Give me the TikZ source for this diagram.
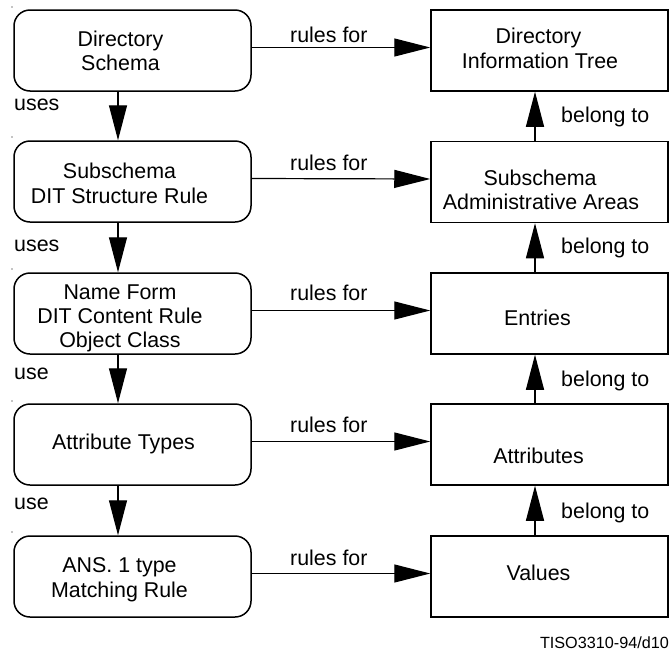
\documentclass[tikz,border=0pt]{standalone}
\usepackage{fontspec}
\setmainfont{Liberation Sans}
\usetikzlibrary{arrows.meta}
\begin{document}
\begin{tikzpicture}[x=1pt,y=-1pt,
  lbox/.style={draw,line width=1.5pt,rounded corners=16pt,minimum width=237pt,minimum height=81pt,inner sep=0pt},
  rbox/.style={draw,line width=1.5pt,minimum width=237pt,minimum height=81pt,inner sep=0pt},
  txt/.style={font=\fontsize{21.4}{24}\selectfont,anchor=base,inner sep=0pt},
  lbl/.style={font=\fontsize{21.4}{24}\selectfont,inner sep=0pt},
  harrow/.style={line width=1.2pt,-{Triangle[length=36pt,width=18pt]}},
  varrow/.style={line width=1.2pt,-{Triangle[length=35pt,width=18pt]}},
  dotmark/.style={circle,fill,inner sep=0pt,minimum size=1.2pt}]
\useasboundingbox (0,0) rectangle (672,651);
% left boxes
\node[lbox] (l1) at (132.5,50.5) {};
\node[lbox] (l2) at (132.5,181.5) {};
\node[lbox] (l3) at (132.5,313.5) {};
\node[lbox] (l4) at (132.5,444.5) {};
\node[lbox] (l5) at (132.5,576.5) {};
% right boxes
\node[rbox] (r1) at (549.5,50.5) {};
\node[rbox] (r2) at (549.5,182) {};
\node[rbox] (r3) at (549.5,313.5) {};
\node[rbox] (r4) at (549.5,444.5) {};
\node[rbox] (r5) at (549.5,576.5) {};
% left texts
\node[txt] (t1a) at (120.5,46) {Directory};
\node[txt] (t1b) at (120.5,70) {Schema};
\node[txt] (t2a) at (119.5,178) {Subschema};
\node[txt] (t2b) at (119.5,203) {DIT Structure Rule};
\node[txt] (t3a) at (120,299) {Name Form};
\node[txt] (t3b) at (120,323) {DIT Content Rule};
\node[txt] (t3c) at (120,347) {Object Class};
\node[txt] (t4a) at (123.5,449) {Attribute Types};
\node[txt] (t5a) at (119.5,572) {ANS. 1 type};
\node[txt] (t5b) at (119.5,597) {Matching Rule};
% right texts
\node[txt] (u1a) at (538.5,43) {Directory};
\node[txt] (u1b) at (540,68) {Information Tree};
\node[txt] (u2a) at (540,185) {Subschema};
\node[txt] (u2b) at (541,209) {Administrative Areas};
\node[txt] (u3a) at (537.5,325) {Entries};
\node[txt] (u4a) at (538.5,463) {Attributes};
\node[txt] (u5a) at (538.5,580) {Values};
% horizontal connectors
\draw[harrow] ([yshift=3pt]l1.east) -- ([yshift=3pt]r1.west);
\draw[harrow] ([yshift=3pt]l2.east) -- ([yshift=3pt]r2.west);
\draw[harrow] ([yshift=3pt]l3.east) -- ([yshift=3pt]r3.west);
\draw[harrow] ([yshift=3pt]l4.east) -- ([yshift=3pt]r4.west);
\draw[harrow] ([yshift=3pt]l5.east) -- ([yshift=3pt]r5.west);
% vertical connectors left
\draw[varrow] ([xshift=-14.5pt]l1.south) -- ([xshift=-14.5pt]l2.north);
\draw[varrow] ([xshift=-14.5pt]l2.south) -- ([xshift=-14.5pt]l3.north);
\draw[varrow] ([xshift=-14.5pt]l3.south) -- ([xshift=-14.5pt]l4.north);
\draw[varrow] ([xshift=-14.5pt]l4.south) -- ([xshift=-14.5pt]l5.north);
% vertical connectors right
\draw[varrow] ([xshift=-14.5pt]r2.north) -- ([xshift=-14.5pt]r1.south);
\draw[varrow] ([xshift=-14.5pt]r3.north) -- ([xshift=-14.5pt]r2.south);
\draw[varrow] ([xshift=-14.5pt]r4.north) -- ([xshift=-14.5pt]r3.south);
\draw[varrow] ([xshift=-14.5pt]r5.north) -- ([xshift=-14.5pt]r4.south);
% rules for labels
\node[lbl,anchor=base west] (rf1) at (290,42) {rules for};
\node[lbl,anchor=base west] (rf2) at (290,170) {rules for};
\node[lbl,anchor=base west] (rf3) at (290,300) {rules for};
\node[lbl,anchor=base west] (rf4) at (290,432) {rules for};
\node[lbl,anchor=base west] (rf5) at (290,565) {rules for};
% uses labels
\node[lbl,anchor=base west] (us1) at (14,110) {uses};
\node[lbl,anchor=base west] (us2) at (14,251) {uses};
\node[lbl,anchor=base west] (us3) at (14,379) {use};
\node[lbl,anchor=base west] (us4) at (14,509) {use};
% belong to labels
\node[lbl,anchor=base west] (bt1) at (561,122) {belong to};
\node[lbl,anchor=base west] (bt2) at (561,253) {belong to};
\node[lbl,anchor=base west] (bt3) at (561,386) {belong to};
\node[lbl,anchor=base west] (bt4) at (561,518) {belong to};
% footer
\node[anchor=base east,inner sep=0pt,font=\fontsize{16.2}{19}\selectfont] (ft) at (669,648) {TISO3310-94/d10};
% small dots
\node[dotmark] (d1) at (12,7) {};
\node[dotmark] (d2) at (12,137) {};
\node[dotmark] (d3) at (12,269) {};
\node[dotmark] (d4) at (12,401) {};
\node[dotmark] (d5) at (12,532) {};
\end{tikzpicture}
\end{document}
